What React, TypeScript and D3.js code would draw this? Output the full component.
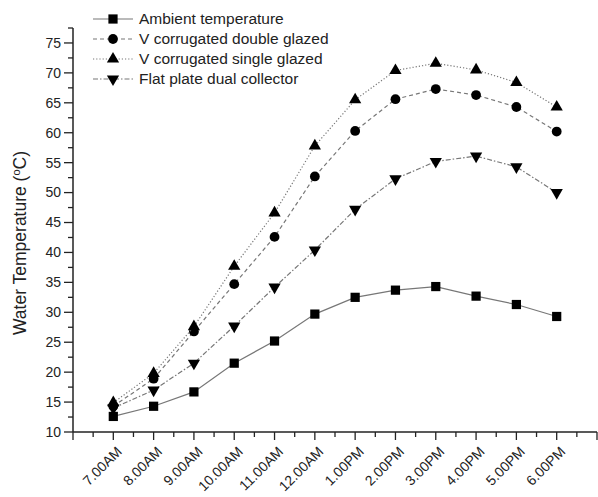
import { useEffect, useRef } from 'react';
import * as d3 from 'd3';

const categories = ['7.00AM', '8.00AM', '9.00AM', '10.00AM', '11.00AM', '12.00AM', '1.00PM', '2.00PM', '3.00PM', '4.00PM', '5.00PM', '6.00PM'];
const ambient = [12.6, 14.3, 16.7, 21.5, 25.2, 29.7, 32.5, 33.7, 34.3, 32.7, 31.3, 29.3];
const doubleGlazed = [14.3, 18.9, 26.8, 34.7, 42.6, 52.7, 60.3, 65.6, 67.3, 66.3, 64.3, 60.2];
const singleGlazed = [14.9, 19.8, 27.6, 37.7, 46.6, 57.8, 65.5, 70.4, 71.6, 70.5, 68.4, 64.3];
const flatPlate = [14.0, 17.0, 21.5, 27.7, 34.2, 40.4, 47.2, 52.3, 55.2, 56.1, 54.3, 50.0];
const yTicks = [10, 15, 20, 25, 30, 35, 40, 45, 50, 55, 60, 65, 70, 75];

const series = [
  { name: 'Ambient temperature', values: ambient, symbol: d3.symbolSquare, dash: null, size: 85, rot: 0 },
  { name: 'V corrugated double glazed', values: doubleGlazed, symbol: d3.symbolCircle, dash: '4,3', size: 75, rot: 0 },
  { name: 'V corrugated single glazed', values: singleGlazed, symbol: d3.symbolTriangle, dash: '1.2,2', size: 65, rot: 0 },
  { name: 'Flat plate dual collector', values: flatPlate, symbol: d3.symbolTriangle, dash: '5,2,1.5,2', size: 65, rot: 180 },
];

const App = () => {
  const svgRef = useRef<SVGSVGElement>(null);

  useEffect(() => {
    const svg = d3.select(svgRef.current);
    svg.selectAll('*').remove();
    const font = '"Liberation Sans", Arial, sans-serif';

    const x = d3.scaleLinear().domain([-1, 12]).range([73, 597]);
    const y = d3.scaleLinear().domain([10, 77.5]).range([432, 28]);

    // y axis
    const yAxis = svg.append('g').attr('transform', 'translate(73,0)');
    yAxis.append('line').attr('y1', y(10)).attr('y2', y(77.5)).attr('stroke', '#222').attr('stroke-width', 1.5);
    const yMinor = d3.range(10, 77.6, 2.5);
    yAxis.selectAll('.ym').data(yMinor).join('line')
      .attr('x1', (d) => (d % 5 === 0 ? -9 : -5)).attr('x2', 0)
      .attr('y1', (d) => y(d)).attr('y2', (d) => y(d))
      .attr('stroke', '#222').attr('stroke-width', 1.3);
    yAxis.selectAll('text').data(yTicks).join('text')
      .attr('x', -12).attr('y', (d) => y(d)).attr('dy', '0.35em')
      .attr('text-anchor', 'end').attr('font-family', font).attr('font-size', 14).attr('fill', '#222')
      .text((d) => d);

    // x axis
    const xAxis = svg.append('g').attr('transform', `translate(0,${y(10)})`);
    xAxis.append('line').attr('x1', x(-1)).attr('x2', x(12)).attr('stroke', '#222').attr('stroke-width', 1.5);
    const xMinor = d3.range(-1, 12.01, 0.5);
    xAxis.selectAll('.xm').data(xMinor).join('line')
      .attr('x1', (d) => x(d)).attr('x2', (d) => x(d))
      .attr('y1', 0).attr('y2', (d) => (Number.isInteger(d) ? 8 : 5))
      .attr('stroke', '#222').attr('stroke-width', 1.3);
    xAxis.selectAll('text').data(categories).join('text')
      .attr('transform', (_, i) => `translate(${x(i) + 6},${17}) rotate(-45)`)
      .attr('text-anchor', 'end').attr('dy', '0.35em')
      .attr('font-family', font).attr('font-size', 14).attr('fill', '#222')
      .text((d) => d);

    // y label
    const yl = svg.append('text')
      .attr('transform', 'translate(26,243) rotate(-90)')
      .attr('text-anchor', 'middle').attr('font-family', font).attr('font-size', 17.5).attr('fill', '#222');
    yl.append('tspan').text('Water Temperature (');
    yl.append('tspan').attr('font-size', 11).attr('dy', -6).text('o');
    yl.append('tspan').attr('dy', 6).text('C)');

    // series
    const line = d3.line<number>().x((_, i) => x(i)).y((d) => y(d));
    series.forEach((s) => {
      svg.append('path').datum(s.values)
        .attr('d', line).attr('fill', 'none').attr('stroke', '#777').attr('stroke-width', 1.2)
        .attr('stroke-dasharray', s.dash);
      const sym = d3.symbol().type(s.symbol).size(s.size);
      svg.selectAll(null).data(s.values).join('path')
        .attr('d', sym)
        .attr('transform', (d, i) => `translate(${x(i)},${y(d)}) rotate(${s.rot})`)
        .attr('fill', '#000');
    });

    // legend
    const lg = svg.append('g');
    series.forEach((s, i) => {
      const ly = 19 + i * 20;
      lg.append('line').attr('x1', 93).attr('x2', 133).attr('y1', ly).attr('y2', ly)
        .attr('stroke', '#777').attr('stroke-width', 1.2).attr('stroke-dasharray', s.dash);
      lg.append('path').attr('d', d3.symbol().type(s.symbol).size(s.size)())
        .attr('transform', `translate(113,${ly}) rotate(${s.rot})`).attr('fill', '#000');
      lg.append('text').attr('x', 139).attr('y', ly).attr('dy', '0.35em')
        .attr('font-family', font).attr('font-size', 15.5).attr('fill', '#222').text(s.name);
    });
  }, []);

  return (
    <svg ref={svgRef} width={598} height={497}
      style={{ position: 'absolute', left: 0, top: 0, background: '#fff' }} />
  );
};

export default App;
